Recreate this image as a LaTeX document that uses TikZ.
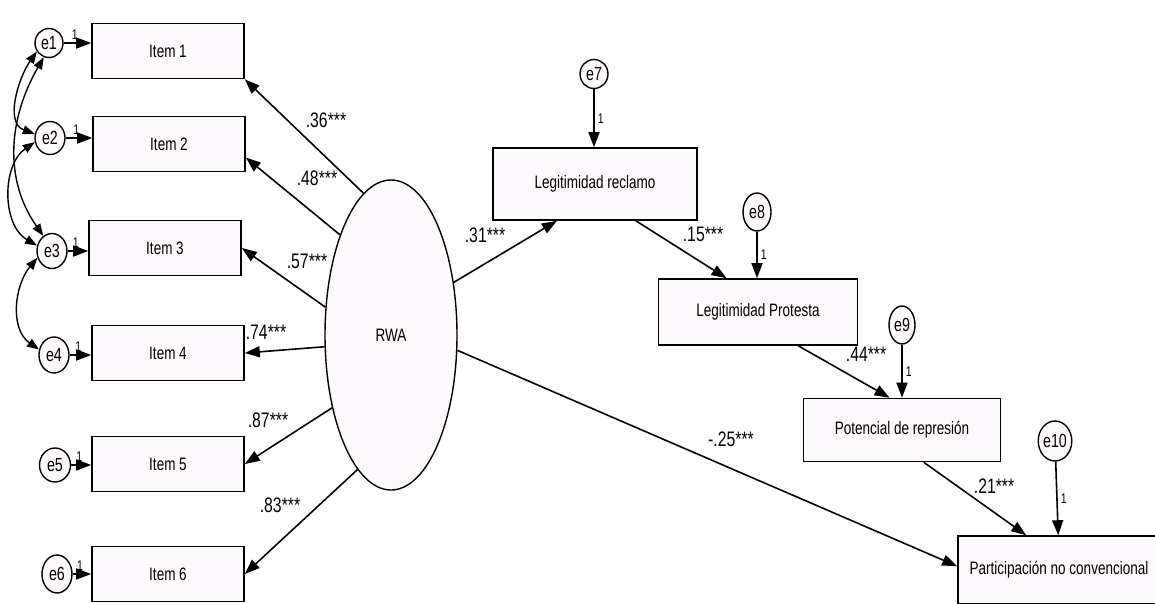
\documentclass[tikz,border=0pt]{standalone}
\usepackage{fontspec}
\newfontfamily\semfont{Liberation Sans}[FakeStretch=0.75]
\usetikzlibrary{arrows.meta,shapes.geometric,calc}
\definecolor{boxfill}{RGB}{253,249,253}

\tikzset{
  itembox/.style={draw, line width=1.6pt, fill=boxfill, minimum width=152pt, minimum height=55pt,
    font=\semfont\fontsize{18}{18}\selectfont},
  errnode/.style 2 args={draw, ellipse, line width=1.4pt, fill=boxfill, inner sep=0pt,
    minimum width=#1, minimum height=#2, font=\semfont\fontsize{19}{19}\selectfont},
  latent/.style={draw, ellipse, line width=1.4pt, fill=boxfill, inner sep=0pt,
    minimum width=132pt, minimum height=310pt, font=\semfont\fontsize{18}{18}\selectfont},
  reg/.style={line width=1.6pt, -{Triangle[length=15pt, width=11pt]}},
  cov/.style={line width=1.4pt, {Triangle[length=12pt, width=9pt]}-{Triangle[length=12pt, width=9pt]}},
  coef/.style={inner sep=0pt, font=\semfont\fontsize{21}{21}\selectfont},
  fixone/.style={inner sep=1pt, font=\semfont\fontsize{14}{14}\selectfont}
}

\begin{document}
\begin{tikzpicture}[x=1pt, y=-1pt]
    \useasboundingbox (0,0) rectangle (1155,603);
    \clip (0,0) rectangle (1155,603);

    % items
    \node (item1) at (168,51) [itembox] {Item 1};
    \node (item2) at (169,144) [itembox] {Item 2};
    \node (item3) at (165,248) [itembox] {Item 3};
    \node (item4) at (168,353) [itembox] {Item 4};
    \node (item5) at (168,464) [itembox] {Item 5};
    \node (item6) at (168,574) [itembox] {Item 6};

    % error terms
    \node (e1) at (49,43) [errnode={28pt}{29pt}] {e1};
    \node (e2) at (50,138) [errnode={30pt}{33pt}] {e2};
    \node (e3) at (52,251) [errnode={30pt}{35pt}] {e3};
    \node (e4) at (54,355) [errnode={30pt}{36pt}] {e4};
    \node (e5) at (55,465) [errnode={31pt}{34pt}] {e5};
    \node (e6) at (57,574) [errnode={30pt}{38pt}] {e6};
    \node (e7) at (594,74) [errnode={28pt}{29pt}] {e7};
    \node (e8) at (757,212) [errnode={28pt}{38pt}] {e8};
    \node (e9) at (902,325) [errnode={26pt}{38pt}] {e9};
    \node (e10) at (1055,441) [errnode={30pt}{40pt}] {e10};

    % latent and structural part
    \node (rwa) at (391,335) [latent] {RWA};
    \node (reclamo) at (595,184) [itembox, minimum width=204pt, minimum height=72pt] {Legitimidad reclamo};
    \node (protesta) at (758,312) [itembox, minimum width=199pt, minimum height=66pt] {Legitimidad Protesta};
    \node (potencial) at (902,430) [itembox, minimum width=197pt, minimum height=63pt] {Potencial de represión};
    \node (particip) at (1059,570) [itembox, minimum width=202pt, minimum height=68pt] {Participación no convencional};

    % error paths
    \draw[reg] (e1) -- (e1 -| item1.west) node[fixone, pos=0.4, above=2pt] {1};
    \draw[reg] (e2) -- (e2 -| item2.west) node[fixone, pos=0.4, above=2pt] {1};
    \draw[reg] (e3) -- (e3 -| item3.west) node[fixone, pos=0.4, above=2pt] {1};
    \draw[reg] (e4) -- (e4 -| item4.west) node[fixone, pos=0.4, above=2pt] {1};
    \draw[reg] (e5) -- (e5 -| item5.west) node[fixone, pos=0.4, above=2pt] {1};
    \draw[reg] (e6) -- (e6 -| item6.west) node[fixone, pos=0.4, above=2pt] {1};
    \draw[reg] (e7) -- (reclamo.north -| e7) node[fixone, midway, right=2pt] {1};
    \draw[reg] (e8) -- (protesta.north -| e8) node[fixone, midway, right=2pt] {1};
    \draw[reg] (e9) -- (potencial.north -| e9) node[fixone, midway, right=2pt] {1};
    \draw[reg] (e10) -- ($(particip.north west)+(101,0)$) node[fixone, midway, right=2pt] {1};

    % covariances
    \draw[cov] (e1.215) to[out=235, in=160] (e2.165);
    \draw[cov] (e1.250) to[out=240, in=125] (e3.120);
    \draw[cov] (e2.195) to[out=215, in=150] (e3.160);
    \draw[cov] (e3.205) to[out=230, in=145] (e4.160);

    % loadings
    \draw[reg] (rwa.101) -- (item1.south east);
    \draw[reg] (rwa.117) -- (item2.-10);
    \draw[reg] (rwa.157) -- (item3.east);
    \draw[reg] (rwa.190) -- (item4.east);
    \draw[reg] (rwa.231) -- (item5.east);
    \draw[reg] (rwa.256) -- (item6.east);

    % structural paths
    \draw[reg] (rwa.40) -- (reclamo.224);
    \draw[reg] (reclamo.-42) -- (protesta.133);
    \draw[reg] (protesta.-40) -- (potencial.111);
    \draw[reg] (potencial.-56) -- ($(particip.north west)+(69,0)$);
    \draw[reg] (rwa.347) -- ($(particip.north west)+(0,31)$);

    % coefficients
    \node (c36) at (326,120) [coef] {.36***};
    \node (c48) at (317,178) [coef] {.48***};
    \node (c57) at (307,261) [coef] {.57***};
    \node (c74) at (266,332) [coef] {.74***};
    \node (c87) at (268,420) [coef] {.87***};
    \node (c83) at (280,505) [coef] {.83***};
    \node (c31) at (485,235) [coef] {.31***};
    \node (c15) at (703,234) [coef] {.15***};
    \node (c44) at (866,354) [coef] {.44***};
    \node (c21) at (994,486) [coef] {.21***};
    \node (c25) at (731,439) [coef] {-.25***};
\end{tikzpicture}
\end{document}
